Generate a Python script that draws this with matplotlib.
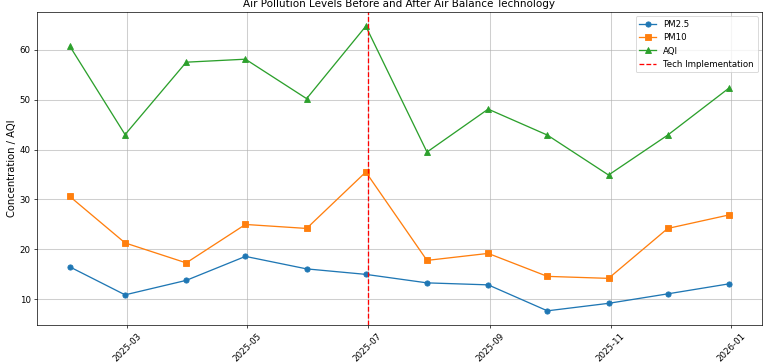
import matplotlib
matplotlib.use("Agg")
import matplotlib.pyplot as plt
import matplotlib.dates as mdates
import pandas as pd

dates = pd.date_range("2025-01-31", periods=12, freq="ME")
pm25 = [16.5, 10.9, 13.8, 18.6, 16.1, 15.0, 13.3, 12.9, 7.7, 9.2, 11.1, 13.1]
pm10 = [30.6, 21.3, 17.3, 25.0, 24.2, 35.5, 17.8, 19.2, 14.6, 14.2, 24.2, 26.9]
aqi = [60.7, 43.0, 57.5, 58.1, 50.2, 64.7, 39.5, 48.1, 42.9, 34.9, 42.9, 52.3]
tech_date = pd.Timestamp("2025-07-01")

DPI = 62.5
fig = plt.figure(figsize=(768 / DPI, 364 / DPI), dpi=DPI)
ax = fig.add_axes([0.048, 0.107, 0.944, 0.86])
ax.plot(dates, pm25, marker="o", label="PM2.5")
ax.plot(dates, pm10, marker="s", label="PM10")
ax.plot(dates, aqi, marker="^", label="AQI")
ax.axvline(tech_date, color="red", linestyle="--", label="Tech Implementation")
ax.set_title("Air Pollution Levels Before and After Air Balance Technology")
ax.set_ylabel("Concentration / AQI", fontsize=11.5, labelpad=3)
ax.xaxis.set_major_locator(mdates.MonthLocator(bymonth=[1, 3, 5, 7, 9, 11]))
ax.xaxis.set_major_formatter(mdates.DateFormatter("%Y-%m"))
plt.setp(ax.get_xticklabels(), rotation=45)
ax.grid(True, linewidth=1.2, alpha=0.6)
ax.legend(loc="upper right")
fig.savefig("out.png", dpi=DPI)
